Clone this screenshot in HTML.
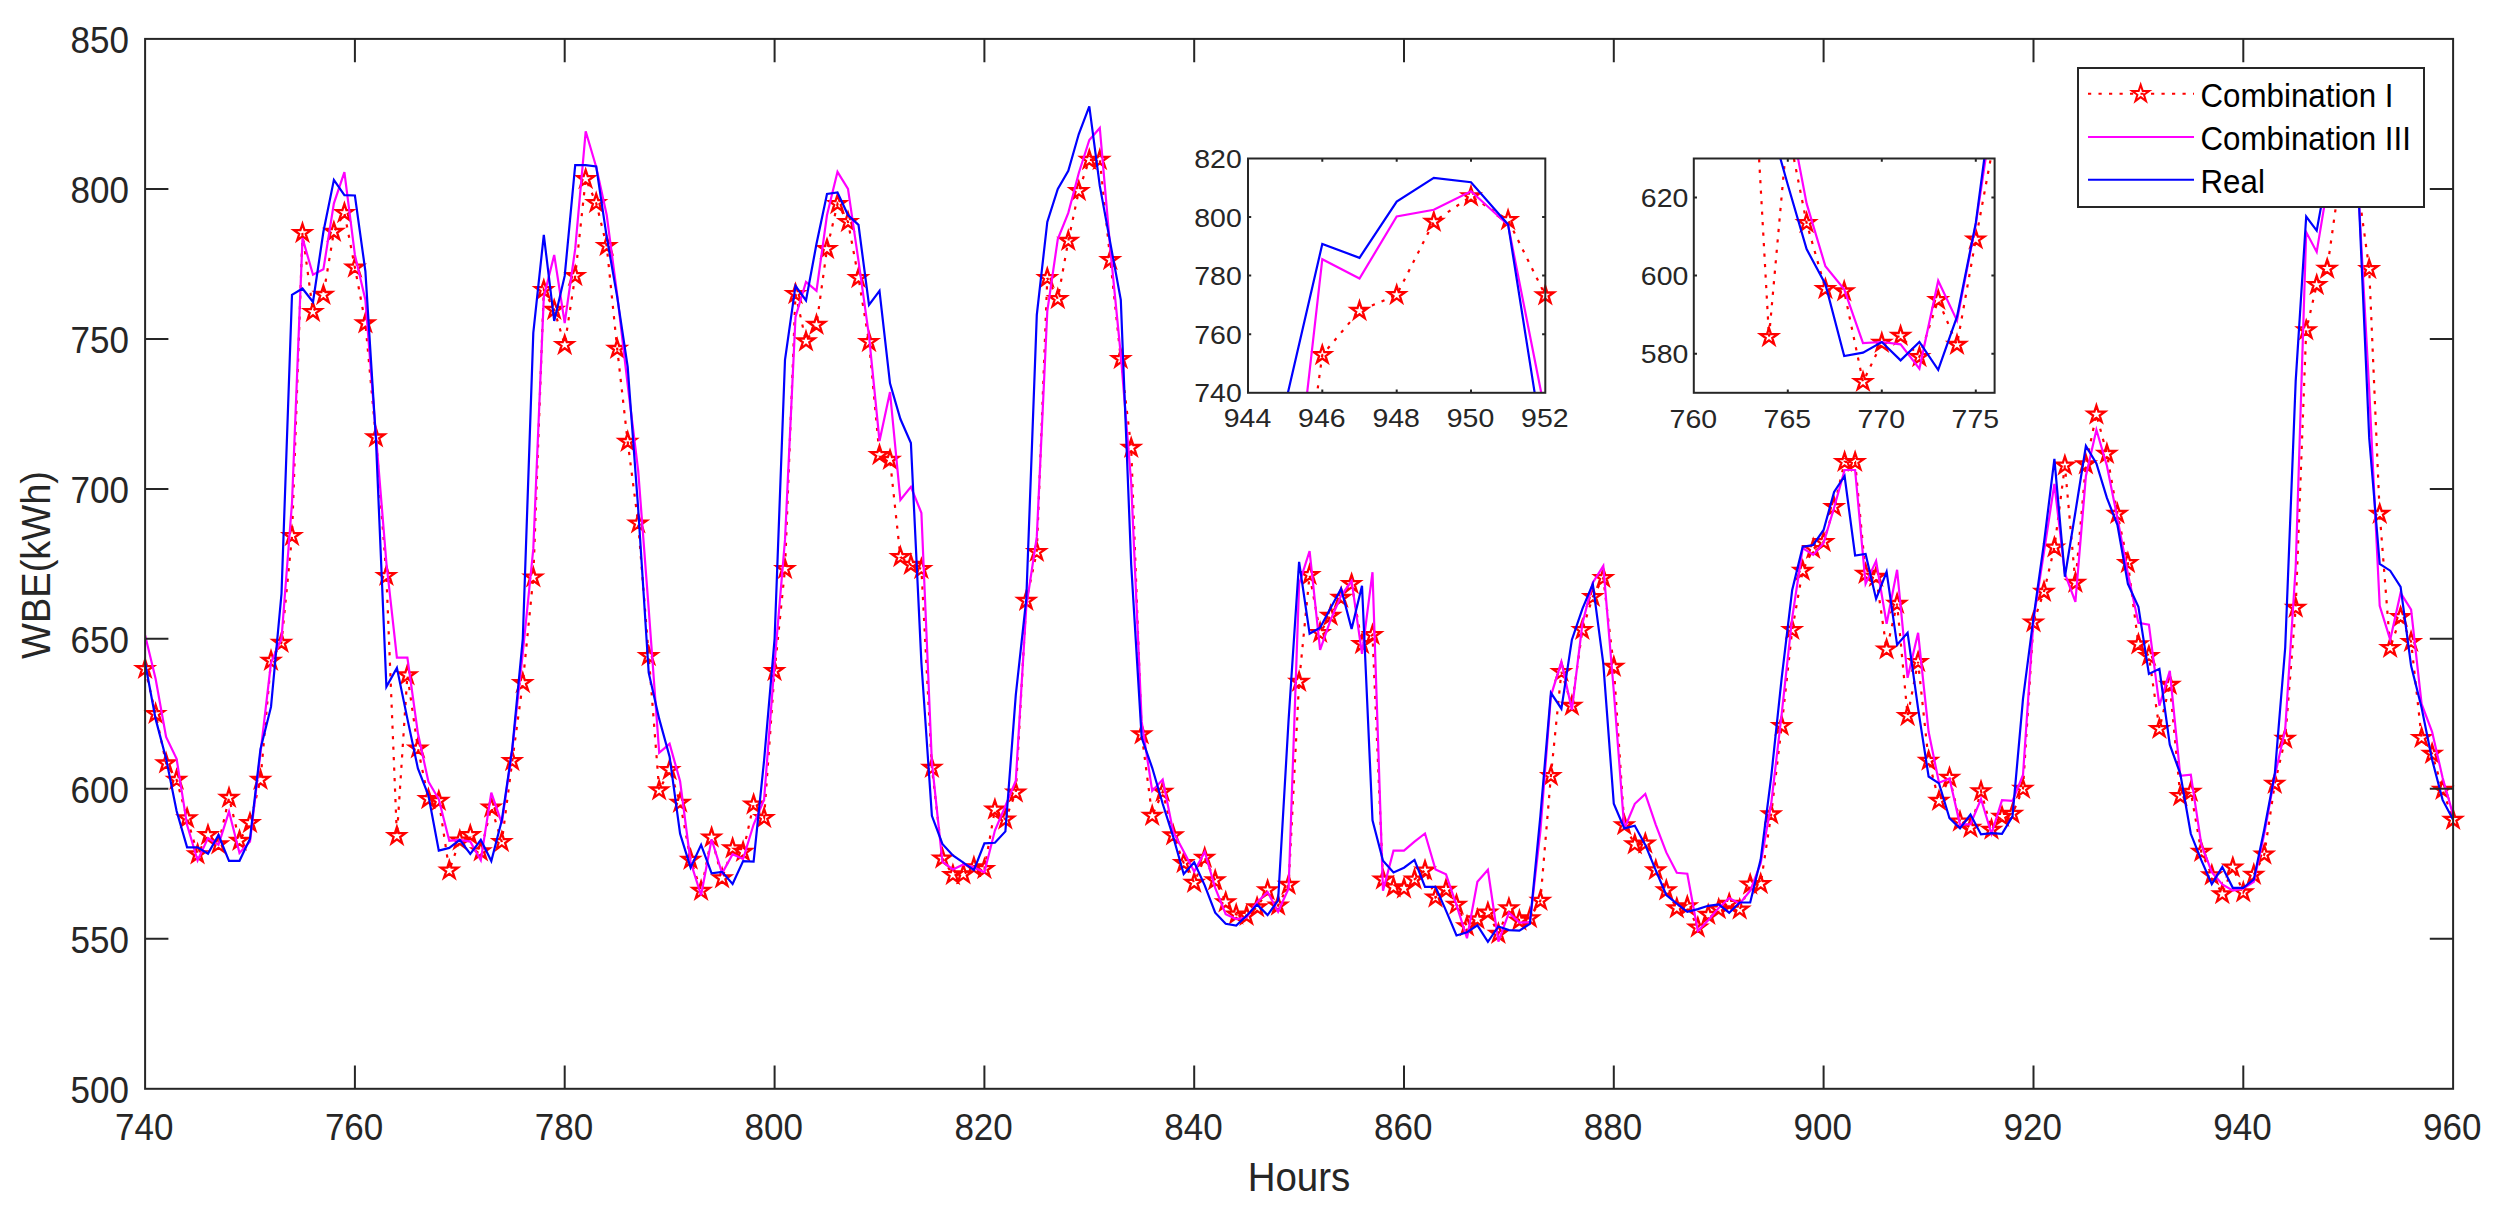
<!DOCTYPE html>
<html lang="en"><head><meta charset="utf-8"><title>WBE forecast comparison</title>
<style>html,body{margin:0;padding:0;background:#fff}body{width:2499px;height:1219px;overflow:hidden}svg text{font-family:"Liberation Sans", Arial, Helvetica, sans-serif}</style>
</head><body>
<svg width="2499" height="1219" viewBox="0 0 2499 1219" style="display:block;font-family:'Liberation Sans', Arial, Helvetica, sans-serif">
<rect x="0" y="0" width="2499" height="1219" fill="#fff"/>
<defs>
<clipPath id="cm"><rect x="145.1" y="38.9" width="2308.0" height="1049.9"/></clipPath>
<clipPath id="c1"><rect x="1248.0" y="158.5" width="297.3" height="234.3"/></clipPath>
<clipPath id="c2"><rect x="1693.8" y="158.5" width="300.8" height="234.3"/></clipPath>
</defs>
<g clip-path="url(#cm)" fill="none" stroke-width="2.2" stroke-linejoin="miter">
<polyline points="145.1,668.8 155.6,713.8 166.1,763.3 176.6,779.8 187.1,818.2 197.6,854.2 208.0,835.0 218.5,844.3 229.0,797.8 239.5,840.7 250.0,823.0 260.5,779.8 271.0,660.7 281.5,642.7 292.0,536.0 302.5,233.0 313.0,311.9 323.4,294.8 333.9,231.8 344.4,212.9 354.9,267.5 365.4,323.3 375.9,437.3 386.4,575.8 396.9,835.9 407.4,675.1 417.9,748.3 428.4,799.0 438.8,800.8 449.3,870.4 459.8,840.4 470.3,835.0 480.8,851.2 491.3,807.4 501.8,841.9 512.3,760.9 522.8,682.9 533.3,577.3 543.8,290.0 554.2,309.8 564.7,344.9 575.2,275.9 585.7,179.0 596.2,203.0 606.7,245.9 617.2,348.8 627.7,441.8 638.2,523.4 648.7,655.9 659.2,790.3 669.6,769.9 680.1,802.6 690.6,859.6 701.1,890.8 711.6,837.4 722.1,878.2 732.6,848.2 743.1,851.8 753.6,804.4 764.1,817.9 774.6,670.9 785.0,568.9 795.5,293.9 806.0,341.3 816.5,324.8 827.0,248.9 837.5,203.9 848.0,221.9 858.5,278.0 869.0,341.9 879.5,455.0 890.0,459.8 900.4,557.0 910.9,564.7 921.4,568.9 931.9,767.8 942.4,858.4 952.9,874.9 963.4,874.3 973.9,867.1 984.4,868.9 994.9,809.5 1005.4,819.4 1015.8,792.4 1026.3,600.7 1036.8,551.9 1047.3,278.0 1057.8,299.0 1068.3,240.8 1078.8,191.0 1089.3,159.8 1099.8,159.8 1110.3,260.0 1120.8,359.0 1131.2,447.8 1141.7,734.2 1152.2,815.8 1162.7,791.8 1173.2,835.3 1183.7,862.9 1194.2,882.7 1204.7,857.8 1215.2,880.3 1225.7,902.2 1236.2,914.5 1246.6,915.7 1257.1,907.3 1267.6,890.2 1278.1,905.5 1288.6,884.8 1299.1,681.7 1309.6,574.9 1320.1,632.8 1330.6,615.7 1341.1,597.7 1351.6,583.9 1362.0,643.9 1372.5,634.9 1383.0,879.4 1393.5,887.2 1404.0,888.4 1414.5,879.4 1425.0,870.4 1435.5,897.4 1446.0,889.6 1456.5,904.6 1467.0,926.2 1477.4,919.3 1487.9,912.4 1498.4,933.7 1508.9,908.2 1519.4,920.5 1529.9,918.1 1540.4,900.7 1550.9,775.9 1561.4,671.8 1571.9,705.7 1582.4,629.8 1592.8,596.8 1603.3,577.9 1613.8,666.7 1624.3,825.1 1634.8,844.3 1645.3,843.4 1655.8,870.1 1666.3,890.2 1676.8,908.2 1687.3,906.1 1697.8,927.4 1708.2,914.8 1718.7,909.1 1729.2,903.7 1739.7,909.4 1750.2,884.5 1760.7,883.9 1771.2,814.3 1781.7,725.8 1792.2,629.8 1802.7,570.7 1813.2,548.9 1823.6,542.0 1834.1,506.9 1844.6,461.9 1855.1,461.9 1865.6,573.7 1876.1,576.7 1886.6,649.3 1897.1,603.7 1907.6,715.9 1918.1,661.9 1928.6,760.6 1939.0,800.8 1949.5,777.7 1960.0,821.5 1970.5,827.8 1981.0,791.2 1991.5,829.6 2002.0,816.7 2012.5,813.7 2023.0,788.8 2033.5,622.3 2044.0,591.7 2054.4,547.4 2064.9,465.5 2075.4,582.7 2085.9,464.3 2096.4,414.5 2106.9,453.8 2117.4,513.8 2127.9,563.0 2138.4,644.2 2148.9,655.9 2159.4,728.8 2169.8,684.7 2180.3,796.0 2190.8,791.8 2201.3,851.8 2211.8,875.2 2222.3,894.1 2232.8,867.4 2243.3,892.3 2253.8,874.6 2264.3,854.5 2274.8,783.7 2285.2,738.7 2295.7,607.6 2306.2,330.2 2316.7,284.9 2327.2,268.7 2337.7,193.7 2348.2,167.6 2358.7,191.9 2369.2,269.0 2379.7,513.8 2390.2,647.8 2400.6,616.9 2411.1,641.8 2421.6,737.8 2432.1,753.7 2442.6,789.7 2453.1,819.7" stroke="#f00" stroke-dasharray="3.2 7.3"/>
</g>
<path d="M145.1 659.8 L147.1 666.1 L153.7 666.1 L148.4 669.9 L150.4 676.1 L145.1 672.3 L139.8 676.1 L141.8 669.9 L136.5 666.1 L143.1 666.1Z M155.6 704.8 L157.6 711.1 L164.2 711.1 L158.9 714.9 L160.9 721.1 L155.6 717.3 L150.3 721.1 L152.3 714.9 L147.0 711.1 L153.6 711.1Z M166.1 754.3 L168.1 760.5 L174.6 760.5 L169.4 764.4 L171.4 770.6 L166.1 766.8 L160.8 770.6 L162.8 764.4 L157.5 760.5 L164.1 760.5Z M176.6 770.8 L178.6 777.0 L185.1 777.0 L179.8 780.9 L181.9 787.1 L176.6 783.3 L171.3 787.1 L173.3 780.9 L168.0 777.0 L174.6 777.0Z M187.1 809.2 L189.1 815.4 L195.6 815.4 L190.3 819.3 L192.4 825.5 L187.1 821.7 L181.8 825.5 L183.8 819.3 L178.5 815.4 L185.0 815.4Z M197.6 845.2 L199.6 851.4 L206.1 851.4 L200.8 855.3 L202.8 861.5 L197.6 857.7 L192.3 861.5 L194.3 855.3 L189.0 851.4 L195.5 851.4Z M208.0 826.0 L210.1 832.2 L216.6 832.2 L211.3 836.1 L213.3 842.3 L208.0 838.5 L202.8 842.3 L204.8 836.1 L199.5 832.2 L206.0 832.2Z M218.5 835.3 L220.6 841.5 L227.1 841.5 L221.8 845.4 L223.8 851.6 L218.5 847.8 L213.2 851.6 L215.3 845.4 L210.0 841.5 L216.5 841.5Z M229.0 788.8 L231.0 795.0 L237.6 795.0 L232.3 798.9 L234.3 805.1 L229.0 801.3 L223.7 805.1 L225.8 798.9 L220.5 795.0 L227.0 795.0Z M239.5 831.7 L241.5 837.9 L248.1 837.9 L242.8 841.8 L244.8 848.0 L239.5 844.2 L234.2 848.0 L236.2 841.8 L231.0 837.9 L237.5 837.9Z M250.0 814.0 L252.0 820.2 L258.6 820.2 L253.3 824.1 L255.3 830.3 L250.0 826.5 L244.7 830.3 L246.7 824.1 L241.4 820.2 L248.0 820.2Z M260.5 770.8 L262.5 777.0 L269.1 777.0 L263.8 780.9 L265.8 787.1 L260.5 783.3 L255.2 787.1 L257.2 780.9 L251.9 777.0 L258.5 777.0Z M271.0 651.7 L273.0 658.0 L279.6 658.0 L274.3 661.8 L276.3 668.0 L271.0 664.2 L265.7 668.0 L267.7 661.8 L262.4 658.0 L269.0 658.0Z M281.5 633.7 L283.5 640.0 L290.0 640.0 L284.8 643.8 L286.8 650.0 L281.5 646.2 L276.2 650.0 L278.2 643.8 L272.9 640.0 L279.5 640.0Z M292.0 527.0 L294.0 533.2 L300.5 533.2 L295.2 537.0 L297.3 543.2 L292.0 539.4 L286.7 543.2 L288.7 537.0 L283.4 533.2 L290.0 533.2Z M302.5 224.0 L304.5 230.2 L311.0 230.2 L305.7 234.0 L307.8 240.3 L302.5 236.4 L297.2 240.3 L299.2 234.0 L293.9 230.2 L300.4 230.2Z M313.0 302.9 L315.0 309.1 L321.5 309.1 L316.2 312.9 L318.2 319.2 L313.0 315.3 L307.7 319.2 L309.7 312.9 L304.4 309.1 L310.9 309.1Z M323.4 285.8 L325.5 292.0 L332.0 292.0 L326.7 295.8 L328.7 302.1 L323.4 298.2 L318.2 302.1 L320.2 295.8 L314.9 292.0 L321.4 292.0Z M333.9 222.8 L336.0 229.0 L342.5 229.0 L337.2 232.8 L339.2 239.1 L333.9 235.2 L328.6 239.1 L330.7 232.8 L325.4 229.0 L331.9 229.0Z M344.4 203.9 L346.4 210.1 L353.0 210.1 L347.7 213.9 L349.7 220.2 L344.4 216.3 L339.1 220.2 L341.2 213.9 L335.9 210.1 L342.4 210.1Z M354.9 258.5 L356.9 264.7 L363.5 264.7 L358.2 268.5 L360.2 274.8 L354.9 270.9 L349.6 274.8 L351.6 268.5 L346.4 264.7 L352.9 264.7Z M365.4 314.3 L367.4 320.5 L374.0 320.5 L368.7 324.3 L370.7 330.6 L365.4 326.7 L360.1 330.6 L362.1 324.3 L356.8 320.5 L363.4 320.5Z M375.9 428.3 L377.9 434.5 L384.5 434.5 L379.2 438.3 L381.2 444.5 L375.9 440.7 L370.6 444.5 L372.6 438.3 L367.3 434.5 L373.9 434.5Z M386.4 566.8 L388.4 573.1 L395.0 573.1 L389.7 576.9 L391.7 583.1 L386.4 579.3 L381.1 583.1 L383.1 576.9 L377.8 573.1 L384.4 573.1Z M396.9 826.9 L398.9 833.1 L405.4 833.1 L400.2 837.0 L402.2 843.2 L396.9 839.4 L391.6 843.2 L393.6 837.0 L388.3 833.1 L394.9 833.1Z M407.4 666.1 L409.4 672.4 L415.9 672.4 L410.6 676.2 L412.7 682.4 L407.4 678.6 L402.1 682.4 L404.1 676.2 L398.8 672.4 L405.4 672.4Z M417.9 739.3 L419.9 745.6 L426.4 745.6 L421.1 749.4 L423.2 755.6 L417.9 751.8 L412.6 755.6 L414.6 749.4 L409.3 745.6 L415.8 745.6Z M428.4 790.0 L430.4 796.2 L436.9 796.2 L431.6 800.1 L433.6 806.3 L428.4 802.5 L423.1 806.3 L425.1 800.1 L419.8 796.2 L426.3 796.2Z M438.8 791.8 L440.9 798.0 L447.4 798.0 L442.1 801.9 L444.1 808.1 L438.8 804.3 L433.6 808.1 L435.6 801.9 L430.3 798.0 L436.8 798.0Z M449.3 861.4 L451.4 867.6 L457.9 867.6 L452.6 871.5 L454.6 877.7 L449.3 873.9 L444.0 877.7 L446.1 871.5 L440.8 867.6 L447.3 867.6Z M459.8 831.4 L461.8 837.6 L468.4 837.6 L463.1 841.5 L465.1 847.7 L459.8 843.9 L454.5 847.7 L456.6 841.5 L451.3 837.6 L457.8 837.6Z M470.3 826.0 L472.3 832.2 L478.9 832.2 L473.6 836.1 L475.6 842.3 L470.3 838.5 L465.0 842.3 L467.0 836.1 L461.8 832.2 L468.3 832.2Z M480.8 842.2 L482.8 848.4 L489.4 848.4 L484.1 852.3 L486.1 858.5 L480.8 854.7 L475.5 858.5 L477.5 852.3 L472.2 848.4 L478.8 848.4Z M491.3 798.4 L493.3 804.6 L499.9 804.6 L494.6 808.5 L496.6 814.7 L491.3 810.9 L486.0 814.7 L488.0 808.5 L482.7 804.6 L489.3 804.6Z M501.8 832.9 L503.8 839.1 L510.4 839.1 L505.1 843.0 L507.1 849.2 L501.8 845.4 L496.5 849.2 L498.5 843.0 L493.2 839.1 L499.8 839.1Z M512.3 751.9 L514.3 758.1 L520.8 758.2 L515.6 762.0 L517.6 768.2 L512.3 764.4 L507.0 768.2 L509.0 762.0 L503.7 758.2 L510.3 758.1Z M522.8 673.9 L524.8 680.2 L531.3 680.2 L526.0 684.0 L528.1 690.2 L522.8 686.4 L517.5 690.2 L519.5 684.0 L514.2 680.2 L520.8 680.2Z M533.3 568.3 L535.3 574.6 L541.8 574.6 L536.5 578.4 L538.6 584.6 L533.3 580.8 L528.0 584.6 L530.0 578.4 L524.7 574.6 L531.2 574.6Z M543.8 281.0 L545.8 287.2 L552.3 287.2 L547.0 291.0 L549.0 297.3 L543.8 293.4 L538.5 297.3 L540.5 291.0 L535.2 287.2 L541.7 287.2Z M554.2 300.8 L556.3 307.0 L562.8 307.0 L557.5 310.8 L559.5 317.1 L554.2 313.2 L549.0 317.1 L551.0 310.8 L545.7 307.0 L552.2 307.0Z M564.7 335.9 L566.8 342.1 L573.3 342.1 L568.0 345.9 L570.0 352.2 L564.7 348.3 L559.4 352.2 L561.5 345.9 L556.2 342.1 L562.7 342.1Z M575.2 266.9 L577.2 273.1 L583.8 273.1 L578.5 276.9 L580.5 283.2 L575.2 279.3 L569.9 283.2 L572.0 276.9 L566.7 273.1 L573.2 273.1Z M585.7 170.0 L587.7 176.2 L594.3 176.2 L589.0 180.0 L591.0 186.3 L585.7 182.4 L580.4 186.3 L582.4 180.0 L577.2 176.2 L583.7 176.2Z M596.2 194.0 L598.2 200.2 L604.8 200.2 L599.5 204.0 L601.5 210.3 L596.2 206.4 L590.9 210.3 L592.9 204.0 L587.6 200.2 L594.2 200.2Z M606.7 236.9 L608.7 243.1 L615.3 243.1 L610.0 246.9 L612.0 253.2 L606.7 249.3 L601.4 253.2 L603.4 246.9 L598.1 243.1 L604.7 243.1Z M617.2 339.8 L619.2 346.0 L625.8 346.0 L620.5 349.8 L622.5 356.1 L617.2 352.2 L611.9 356.1 L613.9 349.8 L608.6 346.0 L615.2 346.0Z M627.7 432.8 L629.7 439.0 L636.2 439.0 L631.0 442.8 L633.0 449.0 L627.7 445.2 L622.4 449.0 L624.4 442.8 L619.1 439.0 L625.7 439.0Z M638.2 514.4 L640.2 520.6 L646.7 520.6 L641.4 524.4 L643.5 530.6 L638.2 526.8 L632.9 530.6 L634.9 524.4 L629.6 520.6 L636.2 520.6Z M648.7 646.9 L650.7 653.2 L657.2 653.2 L651.9 657.0 L654.0 663.2 L648.7 659.4 L643.4 663.2 L645.4 657.0 L640.1 653.2 L646.6 653.2Z M659.2 781.3 L661.2 787.5 L667.7 787.5 L662.4 791.4 L664.4 797.6 L659.2 793.8 L653.9 797.6 L655.9 791.4 L650.6 787.5 L657.1 787.5Z M669.6 760.9 L671.7 767.1 L678.2 767.1 L672.9 771.0 L674.9 777.2 L669.6 773.4 L664.4 777.2 L666.4 771.0 L661.1 767.1 L667.6 767.1Z M680.1 793.6 L682.2 799.8 L688.7 799.8 L683.4 803.7 L685.4 809.9 L680.1 806.1 L674.8 809.9 L676.9 803.7 L671.6 799.8 L678.1 799.8Z M690.6 850.6 L692.6 856.8 L699.2 856.8 L693.9 860.7 L695.9 866.9 L690.6 863.1 L685.3 866.9 L687.4 860.7 L682.1 856.8 L688.6 856.8Z M701.1 881.8 L703.1 888.0 L709.7 888.0 L704.4 891.9 L706.4 898.1 L701.1 894.3 L695.8 898.1 L697.8 891.9 L692.6 888.0 L699.1 888.0Z M711.6 828.4 L713.6 834.6 L720.2 834.6 L714.9 838.5 L716.9 844.7 L711.6 840.9 L706.3 844.7 L708.3 838.5 L703.0 834.6 L709.6 834.6Z M722.1 869.2 L724.1 875.4 L730.7 875.4 L725.4 879.3 L727.4 885.5 L722.1 881.7 L716.8 885.5 L718.8 879.3 L713.5 875.4 L720.1 875.4Z M732.6 839.2 L734.6 845.4 L741.2 845.4 L735.9 849.3 L737.9 855.5 L732.6 851.7 L727.3 855.5 L729.3 849.3 L724.0 845.4 L730.6 845.4Z M743.1 842.8 L745.1 849.0 L751.6 849.0 L746.4 852.9 L748.4 859.1 L743.1 855.3 L737.8 859.1 L739.8 852.9 L734.5 849.0 L741.1 849.0Z M753.6 795.4 L755.6 801.6 L762.1 801.6 L756.8 805.5 L758.9 811.7 L753.6 807.9 L748.3 811.7 L750.3 805.5 L745.0 801.6 L751.6 801.6Z M764.1 808.9 L766.1 815.1 L772.6 815.1 L767.3 819.0 L769.4 825.2 L764.1 821.4 L758.8 825.2 L760.8 819.0 L755.5 815.1 L762.0 815.1Z M774.6 661.9 L776.6 668.2 L783.1 668.2 L777.8 672.0 L779.8 678.2 L774.6 674.4 L769.3 678.2 L771.3 672.0 L766.0 668.2 L772.5 668.2Z M785.0 559.9 L787.1 566.2 L793.6 566.2 L788.3 570.0 L790.3 576.2 L785.0 572.4 L779.8 576.2 L781.8 570.0 L776.5 566.2 L783.0 566.2Z M795.5 284.9 L797.6 291.1 L804.1 291.1 L798.8 294.9 L800.8 301.2 L795.5 297.3 L790.2 301.2 L792.3 294.9 L787.0 291.1 L793.5 291.1Z M806.0 332.3 L808.0 338.5 L814.6 338.5 L809.3 342.3 L811.3 348.6 L806.0 344.7 L800.7 348.6 L802.8 342.3 L797.5 338.5 L804.0 338.5Z M816.5 315.8 L818.5 322.0 L825.1 322.0 L819.8 325.8 L821.8 332.1 L816.5 328.2 L811.2 332.1 L813.2 325.8 L808.0 322.0 L814.5 322.0Z M827.0 239.9 L829.0 246.1 L835.6 246.1 L830.3 249.9 L832.3 256.2 L827.0 252.3 L821.7 256.2 L823.7 249.9 L818.4 246.1 L825.0 246.1Z M837.5 194.9 L839.5 201.1 L846.1 201.1 L840.8 204.9 L842.8 211.2 L837.5 207.3 L832.2 211.2 L834.2 204.9 L828.9 201.1 L835.5 201.1Z M848.0 212.9 L850.0 219.1 L856.6 219.1 L851.3 222.9 L853.3 229.2 L848.0 225.3 L842.7 229.2 L844.7 222.9 L839.4 219.1 L846.0 219.1Z M858.5 269.0 L860.5 275.2 L867.0 275.2 L861.8 279.0 L863.8 285.3 L858.5 281.4 L853.2 285.3 L855.2 279.0 L849.9 275.2 L856.5 275.2Z M869.0 332.9 L871.0 339.1 L877.5 339.1 L872.2 342.9 L874.3 349.2 L869.0 345.3 L863.7 349.2 L865.7 342.9 L860.4 339.1 L867.0 339.1Z M879.5 446.0 L881.5 452.2 L888.0 452.2 L882.7 456.0 L884.8 462.2 L879.5 458.4 L874.2 462.2 L876.2 456.0 L870.9 452.2 L877.4 452.2Z M890.0 450.8 L892.0 457.0 L898.5 457.0 L893.2 460.8 L895.2 467.0 L890.0 463.2 L884.7 467.0 L886.7 460.8 L881.4 457.0 L887.9 457.0Z M900.4 548.0 L902.5 554.2 L909.0 554.2 L903.7 558.0 L905.7 564.2 L900.4 560.4 L895.2 564.2 L897.2 558.0 L891.9 554.2 L898.4 554.2Z M910.9 555.7 L913.0 562.0 L919.5 562.0 L914.2 565.8 L916.2 572.0 L910.9 568.2 L905.6 572.0 L907.7 565.8 L902.4 562.0 L908.9 562.0Z M921.4 559.9 L923.4 566.2 L930.0 566.2 L924.7 570.0 L926.7 576.2 L921.4 572.4 L916.1 576.2 L918.2 570.0 L912.9 566.2 L919.4 566.2Z M931.9 758.8 L933.9 765.0 L940.5 765.0 L935.2 768.9 L937.2 775.1 L931.9 771.3 L926.6 775.1 L928.6 768.9 L923.4 765.0 L929.9 765.0Z M942.4 849.4 L944.4 855.6 L951.0 855.6 L945.7 859.5 L947.7 865.7 L942.4 861.9 L937.1 865.7 L939.1 859.5 L933.8 855.6 L940.4 855.6Z M952.9 865.9 L954.9 872.1 L961.5 872.1 L956.2 876.0 L958.2 882.2 L952.9 878.4 L947.6 882.2 L949.6 876.0 L944.3 872.1 L950.9 872.1Z M963.4 865.3 L965.4 871.5 L972.0 871.5 L966.7 875.4 L968.7 881.6 L963.4 877.8 L958.1 881.6 L960.1 875.4 L954.8 871.5 L961.4 871.5Z M973.9 858.1 L975.9 864.3 L982.4 864.3 L977.2 868.2 L979.2 874.4 L973.9 870.6 L968.6 874.4 L970.6 868.2 L965.3 864.3 L971.9 864.3Z M984.4 859.9 L986.4 866.1 L992.9 866.1 L987.6 870.0 L989.7 876.2 L984.4 872.4 L979.1 876.2 L981.1 870.0 L975.8 866.1 L982.4 866.1Z M994.9 800.5 L996.9 806.7 L1003.4 806.7 L998.1 810.6 L1000.2 816.8 L994.9 813.0 L989.6 816.8 L991.6 810.6 L986.3 806.7 L992.8 806.7Z M1005.4 810.4 L1007.4 816.6 L1013.9 816.6 L1008.6 820.5 L1010.6 826.7 L1005.4 822.9 L1000.1 826.7 L1002.1 820.5 L996.8 816.6 L1003.3 816.6Z M1015.8 783.4 L1017.9 789.6 L1024.4 789.6 L1019.1 793.5 L1021.1 799.7 L1015.8 795.9 L1010.6 799.7 L1012.6 793.5 L1007.3 789.6 L1013.8 789.6Z M1026.3 591.7 L1028.4 598.0 L1034.9 598.0 L1029.6 601.8 L1031.6 608.0 L1026.3 604.2 L1021.0 608.0 L1023.1 601.8 L1017.8 598.0 L1024.3 598.0Z M1036.8 542.9 L1038.8 549.1 L1045.4 549.1 L1040.1 552.9 L1042.1 559.1 L1036.8 555.3 L1031.5 559.1 L1033.6 552.9 L1028.3 549.1 L1034.8 549.1Z M1047.3 269.0 L1049.3 275.2 L1055.9 275.2 L1050.6 279.0 L1052.6 285.3 L1047.3 281.4 L1042.0 285.3 L1044.0 279.0 L1038.8 275.2 L1045.3 275.2Z M1057.8 290.0 L1059.8 296.2 L1066.4 296.2 L1061.1 300.0 L1063.1 306.3 L1057.8 302.4 L1052.5 306.3 L1054.5 300.0 L1049.2 296.2 L1055.8 296.2Z M1068.3 231.8 L1070.3 238.0 L1076.9 238.0 L1071.6 241.8 L1073.6 248.1 L1068.3 244.2 L1063.0 248.1 L1065.0 241.8 L1059.7 238.0 L1066.3 238.0Z M1078.8 182.0 L1080.8 188.2 L1087.4 188.2 L1082.1 192.0 L1084.1 198.3 L1078.8 194.4 L1073.5 198.3 L1075.5 192.0 L1070.2 188.2 L1076.8 188.2Z M1089.3 150.8 L1091.3 157.0 L1097.8 157.0 L1092.6 160.9 L1094.6 167.1 L1089.3 163.2 L1084.0 167.1 L1086.0 160.9 L1080.7 157.0 L1087.3 157.0Z M1099.8 150.8 L1101.8 157.0 L1108.3 157.0 L1103.0 160.9 L1105.1 167.1 L1099.8 163.2 L1094.5 167.1 L1096.5 160.9 L1091.2 157.0 L1097.8 157.0Z M1110.3 251.0 L1112.3 257.2 L1118.8 257.2 L1113.5 261.0 L1115.6 267.3 L1110.3 263.4 L1105.0 267.3 L1107.0 261.0 L1101.7 257.2 L1108.2 257.2Z M1120.8 350.0 L1122.8 356.2 L1129.3 356.2 L1124.0 360.0 L1126.0 366.3 L1120.8 362.4 L1115.5 366.3 L1117.5 360.0 L1112.2 356.2 L1118.7 356.2Z M1131.2 438.8 L1133.3 445.0 L1139.8 445.0 L1134.5 448.8 L1136.5 455.0 L1131.2 451.2 L1126.0 455.0 L1128.0 448.8 L1122.7 445.0 L1129.2 445.0Z M1141.7 725.2 L1143.8 731.5 L1150.3 731.5 L1145.0 735.3 L1147.0 741.5 L1141.7 737.7 L1136.4 741.5 L1138.5 735.3 L1133.2 731.5 L1139.7 731.5Z M1152.2 806.8 L1154.2 813.0 L1160.8 813.0 L1155.5 816.9 L1157.5 823.1 L1152.2 819.3 L1146.9 823.1 L1149.0 816.9 L1143.7 813.0 L1150.2 813.0Z M1162.7 782.8 L1164.7 789.0 L1171.3 789.0 L1166.0 792.9 L1168.0 799.1 L1162.7 795.3 L1157.4 799.1 L1159.4 792.9 L1154.2 789.0 L1160.7 789.0Z M1173.2 826.3 L1175.2 832.5 L1181.8 832.5 L1176.5 836.4 L1178.5 842.6 L1173.2 838.8 L1167.9 842.6 L1169.9 836.4 L1164.6 832.5 L1171.2 832.5Z M1183.7 853.9 L1185.7 860.1 L1192.3 860.1 L1187.0 864.0 L1189.0 870.2 L1183.7 866.4 L1178.4 870.2 L1180.4 864.0 L1175.1 860.1 L1181.7 860.1Z M1194.2 873.7 L1196.2 879.9 L1202.8 879.9 L1197.5 883.8 L1199.5 890.0 L1194.2 886.2 L1188.9 890.0 L1190.9 883.8 L1185.6 879.9 L1192.2 879.9Z M1204.7 848.8 L1206.7 855.0 L1213.2 855.0 L1208.0 858.9 L1210.0 865.1 L1204.7 861.3 L1199.4 865.1 L1201.4 858.9 L1196.1 855.0 L1202.7 855.0Z M1215.2 871.3 L1217.2 877.5 L1223.7 877.5 L1218.4 881.4 L1220.5 887.6 L1215.2 883.8 L1209.9 887.6 L1211.9 881.4 L1206.6 877.5 L1213.2 877.5Z M1225.7 893.2 L1227.7 899.4 L1234.2 899.4 L1228.9 903.3 L1231.0 909.5 L1225.7 905.7 L1220.4 909.5 L1222.4 903.3 L1217.1 899.4 L1223.6 899.4Z M1236.2 905.5 L1238.2 911.7 L1244.7 911.7 L1239.4 915.6 L1241.4 921.8 L1236.2 918.0 L1230.9 921.8 L1232.9 915.6 L1227.6 911.7 L1234.1 911.7Z M1246.6 906.7 L1248.7 912.9 L1255.2 912.9 L1249.9 916.8 L1251.9 923.0 L1246.6 919.2 L1241.4 923.0 L1243.4 916.8 L1238.1 912.9 L1244.6 912.9Z M1257.1 898.3 L1259.2 904.5 L1265.7 904.5 L1260.4 908.4 L1262.4 914.6 L1257.1 910.8 L1251.8 914.6 L1253.9 908.4 L1248.6 904.5 L1255.1 904.5Z M1267.6 881.2 L1269.6 887.4 L1276.2 887.4 L1270.9 891.3 L1272.9 897.5 L1267.6 893.7 L1262.3 897.5 L1264.4 891.3 L1259.1 887.4 L1265.6 887.4Z M1278.1 896.5 L1280.1 902.7 L1286.7 902.7 L1281.4 906.6 L1283.4 912.8 L1278.1 909.0 L1272.8 912.8 L1274.8 906.6 L1269.6 902.7 L1276.1 902.7Z M1288.6 875.8 L1290.6 882.0 L1297.2 882.0 L1291.9 885.9 L1293.9 892.1 L1288.6 888.3 L1283.3 892.1 L1285.3 885.9 L1280.0 882.0 L1286.6 882.0Z M1299.1 672.7 L1301.1 679.0 L1307.7 679.0 L1302.4 682.8 L1304.4 689.0 L1299.1 685.2 L1293.8 689.0 L1295.8 682.8 L1290.5 679.0 L1297.1 679.0Z M1309.6 565.9 L1311.6 572.2 L1318.2 572.2 L1312.9 576.0 L1314.9 582.2 L1309.6 578.4 L1304.3 582.2 L1306.3 576.0 L1301.0 572.2 L1307.6 572.2Z M1320.1 623.8 L1322.1 630.1 L1328.6 630.1 L1323.4 633.9 L1325.4 640.1 L1320.1 636.3 L1314.8 640.1 L1316.8 633.9 L1311.5 630.1 L1318.1 630.1Z M1330.6 606.7 L1332.6 613.0 L1339.1 613.0 L1333.8 616.8 L1335.9 623.0 L1330.6 619.2 L1325.3 623.0 L1327.3 616.8 L1322.0 613.0 L1328.6 613.0Z M1341.1 588.7 L1343.1 595.0 L1349.6 595.0 L1344.3 598.8 L1346.4 605.0 L1341.1 601.2 L1335.8 605.0 L1337.8 598.8 L1332.5 595.0 L1339.0 595.0Z M1351.6 574.9 L1353.6 581.2 L1360.1 581.2 L1354.8 585.0 L1356.8 591.2 L1351.6 587.4 L1346.3 591.2 L1348.3 585.0 L1343.0 581.2 L1349.5 581.2Z M1362.0 634.9 L1364.1 641.2 L1370.6 641.2 L1365.3 645.0 L1367.3 651.2 L1362.0 647.4 L1356.8 651.2 L1358.8 645.0 L1353.5 641.2 L1360.0 641.2Z M1372.5 625.9 L1374.6 632.2 L1381.1 632.2 L1375.8 636.0 L1377.8 642.2 L1372.5 638.4 L1367.2 642.2 L1369.3 636.0 L1364.0 632.2 L1370.5 632.2Z M1383.0 870.4 L1385.0 876.6 L1391.6 876.6 L1386.3 880.5 L1388.3 886.7 L1383.0 882.9 L1377.7 886.7 L1379.8 880.5 L1374.5 876.6 L1381.0 876.6Z M1393.5 878.2 L1395.5 884.4 L1402.1 884.4 L1396.8 888.3 L1398.8 894.5 L1393.5 890.7 L1388.2 894.5 L1390.2 888.3 L1385.0 884.4 L1391.5 884.4Z M1404.0 879.4 L1406.0 885.6 L1412.6 885.6 L1407.3 889.5 L1409.3 895.7 L1404.0 891.9 L1398.7 895.7 L1400.7 889.5 L1395.4 885.6 L1402.0 885.6Z M1414.5 870.4 L1416.5 876.6 L1423.1 876.6 L1417.8 880.5 L1419.8 886.7 L1414.5 882.9 L1409.2 886.7 L1411.2 880.5 L1405.9 876.6 L1412.5 876.6Z M1425.0 861.4 L1427.0 867.6 L1433.6 867.6 L1428.3 871.5 L1430.3 877.7 L1425.0 873.9 L1419.7 877.7 L1421.7 871.5 L1416.4 867.6 L1423.0 867.6Z M1435.5 888.4 L1437.5 894.6 L1444.0 894.6 L1438.8 898.5 L1440.8 904.7 L1435.5 900.9 L1430.2 904.7 L1432.2 898.5 L1426.9 894.6 L1433.5 894.6Z M1446.0 880.6 L1448.0 886.8 L1454.5 886.8 L1449.2 890.7 L1451.3 896.9 L1446.0 893.1 L1440.7 896.9 L1442.7 890.7 L1437.4 886.8 L1444.0 886.8Z M1456.5 895.6 L1458.5 901.8 L1465.0 901.8 L1459.7 905.7 L1461.8 911.9 L1456.5 908.1 L1451.2 911.9 L1453.2 905.7 L1447.9 901.8 L1454.4 901.8Z M1467.0 917.2 L1469.0 923.4 L1475.5 923.4 L1470.2 927.3 L1472.2 933.5 L1467.0 929.7 L1461.7 933.5 L1463.7 927.3 L1458.4 923.4 L1464.9 923.4Z M1477.4 910.3 L1479.5 916.5 L1486.0 916.5 L1480.7 920.4 L1482.7 926.6 L1477.4 922.8 L1472.2 926.6 L1474.2 920.4 L1468.9 916.5 L1475.4 916.5Z M1487.9 903.4 L1490.0 909.6 L1496.5 909.6 L1491.2 913.5 L1493.2 919.7 L1487.9 915.9 L1482.6 919.7 L1484.7 913.5 L1479.4 909.6 L1485.9 909.6Z M1498.4 924.7 L1500.4 930.9 L1507.0 930.9 L1501.7 934.8 L1503.7 941.0 L1498.4 937.2 L1493.1 941.0 L1495.2 934.8 L1489.9 930.9 L1496.4 930.9Z M1508.9 899.2 L1510.9 905.4 L1517.5 905.4 L1512.2 909.3 L1514.2 915.5 L1508.9 911.7 L1503.6 915.5 L1505.6 909.3 L1500.4 905.4 L1506.9 905.4Z M1519.4 911.5 L1521.4 917.7 L1528.0 917.7 L1522.7 921.6 L1524.7 927.8 L1519.4 924.0 L1514.1 927.8 L1516.1 921.6 L1510.8 917.7 L1517.4 917.7Z M1529.9 909.1 L1531.9 915.3 L1538.5 915.3 L1533.2 919.2 L1535.2 925.4 L1529.9 921.6 L1524.6 925.4 L1526.6 919.2 L1521.3 915.3 L1527.9 915.3Z M1540.4 891.7 L1542.4 897.9 L1549.0 897.9 L1543.7 901.8 L1545.7 908.0 L1540.4 904.2 L1535.1 908.0 L1537.1 901.8 L1531.8 897.9 L1538.4 897.9Z M1550.9 766.9 L1552.9 773.1 L1559.4 773.1 L1554.2 777.0 L1556.2 783.2 L1550.9 779.4 L1545.6 783.2 L1547.6 777.0 L1542.3 773.1 L1548.9 773.1Z M1561.4 662.8 L1563.4 669.1 L1569.9 669.1 L1564.6 672.9 L1566.7 679.1 L1561.4 675.3 L1556.1 679.1 L1558.1 672.9 L1552.8 669.1 L1559.4 669.1Z M1571.9 696.7 L1573.9 703.0 L1580.4 703.0 L1575.1 706.8 L1577.2 713.0 L1571.9 709.2 L1566.6 713.0 L1568.6 706.8 L1563.3 703.0 L1569.8 703.0Z M1582.4 620.8 L1584.4 627.1 L1590.9 627.1 L1585.6 630.9 L1587.6 637.1 L1582.4 633.3 L1577.1 637.1 L1579.1 630.9 L1573.8 627.1 L1580.3 627.1Z M1592.8 587.8 L1594.9 594.1 L1601.4 594.1 L1596.1 597.9 L1598.1 604.1 L1592.8 600.3 L1587.6 604.1 L1589.6 597.9 L1584.3 594.1 L1590.8 594.1Z M1603.3 568.9 L1605.4 575.2 L1611.9 575.2 L1606.6 579.0 L1608.6 585.2 L1603.3 581.4 L1598.0 585.2 L1600.1 579.0 L1594.8 575.2 L1601.3 575.2Z M1613.8 657.7 L1615.8 664.0 L1622.4 664.0 L1617.1 667.8 L1619.1 674.0 L1613.8 670.2 L1608.5 674.0 L1610.6 667.8 L1605.3 664.0 L1611.8 664.0Z M1624.3 816.1 L1626.3 822.3 L1632.9 822.3 L1627.6 826.2 L1629.6 832.4 L1624.3 828.6 L1619.0 832.4 L1621.0 826.2 L1615.8 822.3 L1622.3 822.3Z M1634.8 835.3 L1636.8 841.5 L1643.4 841.5 L1638.1 845.4 L1640.1 851.6 L1634.8 847.8 L1629.5 851.6 L1631.5 845.4 L1626.2 841.5 L1632.8 841.5Z M1645.3 834.4 L1647.3 840.6 L1653.9 840.6 L1648.6 844.5 L1650.6 850.7 L1645.3 846.9 L1640.0 850.7 L1642.0 844.5 L1636.7 840.6 L1643.3 840.6Z M1655.8 861.1 L1657.8 867.3 L1664.4 867.3 L1659.1 871.2 L1661.1 877.4 L1655.8 873.6 L1650.5 877.4 L1652.5 871.2 L1647.2 867.3 L1653.8 867.3Z M1666.3 881.2 L1668.3 887.4 L1674.8 887.4 L1669.6 891.3 L1671.6 897.5 L1666.3 893.7 L1661.0 897.5 L1663.0 891.3 L1657.7 887.4 L1664.3 887.4Z M1676.8 899.2 L1678.8 905.4 L1685.3 905.4 L1680.0 909.3 L1682.1 915.5 L1676.8 911.7 L1671.5 915.5 L1673.5 909.3 L1668.2 905.4 L1674.8 905.4Z M1687.3 897.1 L1689.3 903.3 L1695.8 903.3 L1690.5 907.2 L1692.6 913.4 L1687.3 909.6 L1682.0 913.4 L1684.0 907.2 L1678.7 903.3 L1685.2 903.3Z M1697.8 918.4 L1699.8 924.6 L1706.3 924.6 L1701.0 928.5 L1703.0 934.7 L1697.8 930.9 L1692.5 934.7 L1694.5 928.5 L1689.2 924.6 L1695.7 924.6Z M1708.2 905.8 L1710.3 912.0 L1716.8 912.0 L1711.5 915.9 L1713.5 922.1 L1708.2 918.3 L1703.0 922.1 L1705.0 915.9 L1699.7 912.0 L1706.2 912.0Z M1718.7 900.1 L1720.8 906.3 L1727.3 906.3 L1722.0 910.2 L1724.0 916.4 L1718.7 912.6 L1713.4 916.4 L1715.5 910.2 L1710.2 906.3 L1716.7 906.3Z M1729.2 894.7 L1731.2 900.9 L1737.8 900.9 L1732.5 904.8 L1734.5 911.0 L1729.2 907.2 L1723.9 911.0 L1726.0 904.8 L1720.7 900.9 L1727.2 900.9Z M1739.7 900.4 L1741.7 906.6 L1748.3 906.6 L1743.0 910.5 L1745.0 916.7 L1739.7 912.9 L1734.4 916.7 L1736.4 910.5 L1731.2 906.6 L1737.7 906.6Z M1750.2 875.5 L1752.2 881.7 L1758.8 881.7 L1753.5 885.6 L1755.5 891.8 L1750.2 888.0 L1744.9 891.8 L1746.9 885.6 L1741.6 881.7 L1748.2 881.7Z M1760.7 874.9 L1762.7 881.1 L1769.3 881.1 L1764.0 885.0 L1766.0 891.2 L1760.7 887.4 L1755.4 891.2 L1757.4 885.0 L1752.1 881.1 L1758.7 881.1Z M1771.2 805.3 L1773.2 811.5 L1779.8 811.5 L1774.5 815.4 L1776.5 821.6 L1771.2 817.8 L1765.9 821.6 L1767.9 815.4 L1762.6 811.5 L1769.2 811.5Z M1781.7 716.8 L1783.7 723.1 L1790.2 723.1 L1785.0 726.9 L1787.0 733.1 L1781.7 729.3 L1776.4 733.1 L1778.4 726.9 L1773.1 723.1 L1779.7 723.1Z M1792.2 620.8 L1794.2 627.1 L1800.7 627.1 L1795.4 630.9 L1797.5 637.1 L1792.2 633.3 L1786.9 637.1 L1788.9 630.9 L1783.6 627.1 L1790.2 627.1Z M1802.7 561.7 L1804.7 568.0 L1811.2 568.0 L1805.9 571.8 L1808.0 578.0 L1802.7 574.2 L1797.4 578.0 L1799.4 571.8 L1794.1 568.0 L1800.6 568.0Z M1813.2 539.9 L1815.2 546.1 L1821.7 546.1 L1816.4 549.9 L1818.4 556.1 L1813.2 552.3 L1807.9 556.1 L1809.9 549.9 L1804.6 546.1 L1811.1 546.1Z M1823.6 533.0 L1825.7 539.2 L1832.2 539.2 L1826.9 543.0 L1828.9 549.2 L1823.6 545.4 L1818.4 549.2 L1820.4 543.0 L1815.1 539.2 L1821.6 539.2Z M1834.1 497.9 L1836.2 504.1 L1842.7 504.1 L1837.4 507.9 L1839.4 514.1 L1834.1 510.3 L1828.8 514.1 L1830.9 507.9 L1825.6 504.1 L1832.1 504.1Z M1844.6 452.9 L1846.6 459.1 L1853.2 459.1 L1847.9 462.9 L1849.9 469.1 L1844.6 465.3 L1839.3 469.1 L1841.4 462.9 L1836.1 459.1 L1842.6 459.1Z M1855.1 452.9 L1857.1 459.1 L1863.7 459.1 L1858.4 462.9 L1860.4 469.1 L1855.1 465.3 L1849.8 469.1 L1851.8 462.9 L1846.6 459.1 L1853.1 459.1Z M1865.6 564.7 L1867.6 571.0 L1874.2 571.0 L1868.9 574.8 L1870.9 581.0 L1865.6 577.2 L1860.3 581.0 L1862.3 574.8 L1857.0 571.0 L1863.6 571.0Z M1876.1 567.7 L1878.1 574.0 L1884.7 574.0 L1879.4 577.8 L1881.4 584.0 L1876.1 580.2 L1870.8 584.0 L1872.8 577.8 L1867.5 574.0 L1874.1 574.0Z M1886.6 640.3 L1888.6 646.6 L1895.2 646.6 L1889.9 650.4 L1891.9 656.6 L1886.6 652.8 L1881.3 656.6 L1883.3 650.4 L1878.0 646.6 L1884.6 646.6Z M1897.1 594.7 L1899.1 601.0 L1905.6 601.0 L1900.4 604.8 L1902.4 611.0 L1897.1 607.2 L1891.8 611.0 L1893.8 604.8 L1888.5 601.0 L1895.1 601.0Z M1907.6 706.9 L1909.6 713.2 L1916.1 713.2 L1910.8 717.0 L1912.9 723.2 L1907.6 719.4 L1902.3 723.2 L1904.3 717.0 L1899.0 713.2 L1905.6 713.2Z M1918.1 652.9 L1920.1 659.2 L1926.6 659.2 L1921.3 663.0 L1923.4 669.2 L1918.1 665.4 L1912.8 669.2 L1914.8 663.0 L1909.5 659.2 L1916.0 659.2Z M1928.6 751.6 L1930.6 757.8 L1937.1 757.9 L1931.8 761.7 L1933.8 767.9 L1928.6 764.1 L1923.3 767.9 L1925.3 761.7 L1920.0 757.9 L1926.5 757.8Z M1939.0 791.8 L1941.1 798.0 L1947.6 798.0 L1942.3 801.9 L1944.3 808.1 L1939.0 804.3 L1933.8 808.1 L1935.8 801.9 L1930.5 798.0 L1937.0 798.0Z M1949.5 768.7 L1951.6 774.9 L1958.1 774.9 L1952.8 778.8 L1954.8 785.0 L1949.5 781.2 L1944.2 785.0 L1946.3 778.8 L1941.0 774.9 L1947.5 774.9Z M1960.0 812.5 L1962.0 818.7 L1968.6 818.7 L1963.3 822.6 L1965.3 828.8 L1960.0 825.0 L1954.7 828.8 L1956.8 822.6 L1951.5 818.7 L1958.0 818.7Z M1970.5 818.8 L1972.5 825.0 L1979.1 825.0 L1973.8 828.9 L1975.8 835.1 L1970.5 831.3 L1965.2 835.1 L1967.2 828.9 L1962.0 825.0 L1968.5 825.0Z M1981.0 782.2 L1983.0 788.4 L1989.6 788.4 L1984.3 792.3 L1986.3 798.5 L1981.0 794.7 L1975.7 798.5 L1977.7 792.3 L1972.4 788.4 L1979.0 788.4Z M1991.5 820.6 L1993.5 826.8 L2000.1 826.8 L1994.8 830.7 L1996.8 836.9 L1991.5 833.1 L1986.2 836.9 L1988.2 830.7 L1982.9 826.8 L1989.5 826.8Z M2002.0 807.7 L2004.0 813.9 L2010.6 813.9 L2005.3 817.8 L2007.3 824.0 L2002.0 820.2 L1996.7 824.0 L1998.7 817.8 L1993.4 813.9 L2000.0 813.9Z M2012.5 804.7 L2014.5 810.9 L2021.0 810.9 L2015.8 814.8 L2017.8 821.0 L2012.5 817.2 L2007.2 821.0 L2009.2 814.8 L2003.9 810.9 L2010.5 810.9Z M2023.0 779.8 L2025.0 786.0 L2031.5 786.0 L2026.2 789.9 L2028.3 796.1 L2023.0 792.3 L2017.7 796.1 L2019.7 789.9 L2014.4 786.0 L2021.0 786.0Z M2033.5 613.3 L2035.5 619.6 L2042.0 619.6 L2036.7 623.4 L2038.8 629.6 L2033.5 625.8 L2028.2 629.6 L2030.2 623.4 L2024.9 619.6 L2031.4 619.6Z M2044.0 582.7 L2046.0 589.0 L2052.5 589.0 L2047.2 592.8 L2049.2 599.0 L2044.0 595.2 L2038.7 599.0 L2040.7 592.8 L2035.4 589.0 L2041.9 589.0Z M2054.4 538.4 L2056.5 544.6 L2063.0 544.6 L2057.7 548.4 L2059.7 554.6 L2054.4 550.8 L2049.2 554.6 L2051.2 548.4 L2045.9 544.6 L2052.4 544.6Z M2064.9 456.5 L2067.0 462.7 L2073.5 462.7 L2068.2 466.5 L2070.2 472.7 L2064.9 468.9 L2059.6 472.7 L2061.7 466.5 L2056.4 462.7 L2062.9 462.7Z M2075.4 573.7 L2077.4 580.0 L2084.0 580.0 L2078.7 583.8 L2080.7 590.0 L2075.4 586.2 L2070.1 590.0 L2072.2 583.8 L2066.9 580.0 L2073.4 580.0Z M2085.9 455.3 L2087.9 461.5 L2094.5 461.5 L2089.2 465.3 L2091.2 471.5 L2085.9 467.7 L2080.6 471.5 L2082.6 465.3 L2077.4 461.5 L2083.9 461.5Z M2096.4 405.5 L2098.4 411.7 L2105.0 411.7 L2099.7 415.5 L2101.7 421.7 L2096.4 417.9 L2091.1 421.7 L2093.1 415.5 L2087.8 411.7 L2094.4 411.7Z M2106.9 444.8 L2108.9 451.0 L2115.5 451.0 L2110.2 454.8 L2112.2 461.0 L2106.9 457.2 L2101.6 461.0 L2103.6 454.8 L2098.3 451.0 L2104.9 451.0Z M2117.4 504.8 L2119.4 511.0 L2126.0 511.0 L2120.7 514.8 L2122.7 521.0 L2117.4 517.2 L2112.1 521.0 L2114.1 514.8 L2108.8 511.0 L2115.4 511.0Z M2127.9 554.0 L2129.9 560.2 L2136.4 560.2 L2131.2 564.0 L2133.2 570.2 L2127.9 566.4 L2122.6 570.2 L2124.6 564.0 L2119.3 560.2 L2125.9 560.2Z M2138.4 635.2 L2140.4 641.5 L2146.9 641.5 L2141.6 645.3 L2143.7 651.5 L2138.4 647.7 L2133.1 651.5 L2135.1 645.3 L2129.8 641.5 L2136.4 641.5Z M2148.9 646.9 L2150.9 653.2 L2157.4 653.2 L2152.1 657.0 L2154.2 663.2 L2148.9 659.4 L2143.6 663.2 L2145.6 657.0 L2140.3 653.2 L2146.8 653.2Z M2159.4 719.8 L2161.4 726.1 L2167.9 726.1 L2162.6 729.9 L2164.6 736.1 L2159.4 732.3 L2154.1 736.1 L2156.1 729.9 L2150.8 726.1 L2157.3 726.1Z M2169.8 675.7 L2171.9 682.0 L2178.4 682.0 L2173.1 685.8 L2175.1 692.0 L2169.8 688.2 L2164.6 692.0 L2166.6 685.8 L2161.3 682.0 L2167.8 682.0Z M2180.3 787.0 L2182.4 793.2 L2188.9 793.2 L2183.6 797.1 L2185.6 803.3 L2180.3 799.5 L2175.0 803.3 L2177.1 797.1 L2171.8 793.2 L2178.3 793.2Z M2190.8 782.8 L2192.8 789.0 L2199.4 789.0 L2194.1 792.9 L2196.1 799.1 L2190.8 795.3 L2185.5 799.1 L2187.6 792.9 L2182.3 789.0 L2188.8 789.0Z M2201.3 842.8 L2203.3 849.0 L2209.9 849.0 L2204.6 852.9 L2206.6 859.1 L2201.3 855.3 L2196.0 859.1 L2198.0 852.9 L2192.8 849.0 L2199.3 849.0Z M2211.8 866.2 L2213.8 872.4 L2220.4 872.4 L2215.1 876.3 L2217.1 882.5 L2211.8 878.7 L2206.5 882.5 L2208.5 876.3 L2203.2 872.4 L2209.8 872.4Z M2222.3 885.1 L2224.3 891.3 L2230.9 891.3 L2225.6 895.2 L2227.6 901.4 L2222.3 897.6 L2217.0 901.4 L2219.0 895.2 L2213.7 891.3 L2220.3 891.3Z M2232.8 858.4 L2234.8 864.6 L2241.4 864.6 L2236.1 868.5 L2238.1 874.7 L2232.8 870.9 L2227.5 874.7 L2229.5 868.5 L2224.2 864.6 L2230.8 864.6Z M2243.3 883.3 L2245.3 889.5 L2251.8 889.5 L2246.6 893.4 L2248.6 899.6 L2243.3 895.8 L2238.0 899.6 L2240.0 893.4 L2234.7 889.5 L2241.3 889.5Z M2253.8 865.6 L2255.8 871.8 L2262.3 871.8 L2257.0 875.7 L2259.1 881.9 L2253.8 878.1 L2248.5 881.9 L2250.5 875.7 L2245.2 871.8 L2251.8 871.8Z M2264.3 845.5 L2266.3 851.7 L2272.8 851.7 L2267.5 855.6 L2269.6 861.8 L2264.3 858.0 L2259.0 861.8 L2261.0 855.6 L2255.7 851.7 L2262.2 851.7Z M2274.8 774.7 L2276.8 780.9 L2283.3 780.9 L2278.0 784.8 L2280.0 791.0 L2274.8 787.2 L2269.5 791.0 L2271.5 784.8 L2266.2 780.9 L2272.7 780.9Z M2285.2 729.7 L2287.3 736.0 L2293.8 736.0 L2288.5 739.8 L2290.5 746.0 L2285.2 742.2 L2280.0 746.0 L2282.0 739.8 L2276.7 736.0 L2283.2 736.0Z M2295.7 598.6 L2297.8 604.9 L2304.3 604.9 L2299.0 608.7 L2301.0 614.9 L2295.7 611.1 L2290.4 614.9 L2292.5 608.7 L2287.2 604.9 L2293.7 604.9Z M2306.2 321.2 L2308.2 327.4 L2314.8 327.4 L2309.5 331.2 L2311.5 337.5 L2306.2 333.6 L2300.9 337.5 L2303.0 331.2 L2297.7 327.4 L2304.2 327.4Z M2316.7 275.9 L2318.7 282.1 L2325.3 282.1 L2320.0 285.9 L2322.0 292.2 L2316.7 288.3 L2311.4 292.2 L2313.4 285.9 L2308.2 282.1 L2314.7 282.1Z M2327.2 259.7 L2329.2 265.9 L2335.8 265.9 L2330.5 269.7 L2332.5 276.0 L2327.2 272.1 L2321.9 276.0 L2323.9 269.7 L2318.6 265.9 L2325.2 265.9Z M2337.7 184.7 L2339.7 190.9 L2346.3 190.9 L2341.0 194.7 L2343.0 201.0 L2337.7 197.1 L2332.4 201.0 L2334.4 194.7 L2329.1 190.9 L2335.7 190.9Z M2348.2 158.6 L2350.2 164.8 L2356.8 164.8 L2351.5 168.7 L2353.5 174.9 L2348.2 171.0 L2342.9 174.9 L2344.9 168.7 L2339.6 164.8 L2346.2 164.8Z M2358.7 182.9 L2360.7 189.1 L2367.2 189.1 L2362.0 192.9 L2364.0 199.2 L2358.7 195.3 L2353.4 199.2 L2355.4 192.9 L2350.1 189.1 L2356.7 189.1Z M2369.2 260.0 L2371.2 266.2 L2377.7 266.2 L2372.4 270.0 L2374.5 276.3 L2369.2 272.4 L2363.9 276.3 L2365.9 270.0 L2360.6 266.2 L2367.2 266.2Z M2379.7 504.8 L2381.7 511.0 L2388.2 511.0 L2382.9 514.8 L2385.0 521.0 L2379.7 517.2 L2374.4 521.0 L2376.4 514.8 L2371.1 511.0 L2377.6 511.0Z M2390.2 638.8 L2392.2 645.1 L2398.7 645.1 L2393.4 648.9 L2395.4 655.1 L2390.2 651.3 L2384.9 655.1 L2386.9 648.9 L2381.6 645.1 L2388.1 645.1Z M2400.6 607.9 L2402.7 614.2 L2409.2 614.2 L2403.9 618.0 L2405.9 624.2 L2400.6 620.4 L2395.4 624.2 L2397.4 618.0 L2392.1 614.2 L2398.6 614.2Z M2411.1 632.8 L2413.2 639.1 L2419.7 639.1 L2414.4 642.9 L2416.4 649.1 L2411.1 645.3 L2405.8 649.1 L2407.9 642.9 L2402.6 639.1 L2409.1 639.1Z M2421.6 728.8 L2423.6 735.1 L2430.2 735.1 L2424.9 738.9 L2426.9 745.1 L2421.6 741.3 L2416.3 745.1 L2418.4 738.9 L2413.1 735.1 L2419.6 735.1Z M2432.1 744.7 L2434.1 751.0 L2440.7 751.0 L2435.4 754.8 L2437.4 761.0 L2432.1 757.2 L2426.8 761.0 L2428.8 754.8 L2423.6 751.0 L2430.1 751.0Z M2442.6 780.7 L2444.6 786.9 L2451.2 786.9 L2445.9 790.8 L2447.9 797.0 L2442.6 793.2 L2437.3 797.0 L2439.3 790.8 L2434.0 786.9 L2440.6 786.9Z M2453.1 810.7 L2455.1 816.9 L2461.7 816.9 L2456.4 820.8 L2458.4 827.0 L2453.1 823.2 L2447.8 827.0 L2449.8 820.8 L2444.5 816.9 L2451.1 816.9Z" fill="none" stroke="#f00" stroke-width="2.3" stroke-linejoin="miter"/>
<g clip-path="url(#cm)" fill="none" stroke-width="2.2" stroke-linejoin="miter">
<polyline points="145.1,635.2 155.6,678.7 166.1,736.9 176.6,758.8 187.1,825.1 197.6,860.5 208.0,838.0 218.5,844.9 229.0,811.6 239.5,853.0 250.0,841.6 260.5,752.8 271.0,662.8 281.5,638.8 292.0,503.0 302.5,238.1 313.0,274.7 323.4,269.3 333.9,203.3 344.4,172.1 354.9,254.9 365.4,299.9 375.9,434.9 386.4,563.0 396.9,657.7 407.4,657.7 417.9,733.3 428.4,781.6 438.8,799.3 449.3,840.7 459.8,839.8 470.3,841.6 480.8,860.2 491.3,792.7 501.8,823.3 512.3,749.2 522.8,652.9 533.3,548.9 543.8,296.9 554.2,254.9 564.7,323.0 575.2,248.9 585.7,131.3 596.2,167.0 606.7,215.0 617.2,294.8 627.7,384.8 638.2,470.9 648.7,608.8 659.2,752.8 669.6,743.8 680.1,781.3 690.6,862.0 701.1,895.3 711.6,839.2 722.1,873.4 732.6,854.2 743.1,859.0 753.6,824.5 764.1,799.6 774.6,662.8 785.0,539.9 795.5,317.0 806.0,281.9 816.5,290.9 827.0,215.0 837.5,171.8 848.0,188.9 858.5,260.9 869.0,335.9 879.5,440.9 890.0,392.0 900.4,500.0 910.9,486.8 921.4,512.9 931.9,762.7 942.4,861.7 952.9,869.5 963.4,864.4 973.9,867.4 984.4,872.2 994.9,830.5 1005.4,805.9 1015.8,780.7 1026.3,606.7 1036.8,536.9 1047.3,311.0 1057.8,239.0 1068.3,212.9 1078.8,173.0 1089.3,140.0 1099.8,128.0 1110.3,248.9 1120.8,354.8 1131.2,482.9 1141.7,721.9 1152.2,790.9 1162.7,779.5 1173.2,831.7 1183.7,851.5 1194.2,871.6 1204.7,851.8 1215.2,887.8 1225.7,914.2 1236.2,919.0 1246.6,917.5 1257.1,902.2 1267.6,892.0 1278.1,911.8 1288.6,888.4 1299.1,583.9 1309.6,551.0 1320.1,649.9 1330.6,619.9 1341.1,595.9 1351.6,580.9 1362.0,653.8 1372.5,572.2 1383.0,890.8 1393.5,850.6 1404.0,850.6 1414.5,841.6 1425.0,833.5 1435.5,869.5 1446.0,874.3 1456.5,905.2 1467.0,938.2 1477.4,881.8 1487.9,869.8 1498.4,941.5 1508.9,912.7 1519.4,922.6 1529.9,922.3 1540.4,830.8 1550.9,695.8 1561.4,661.9 1571.9,709.9 1582.4,623.8 1592.8,582.7 1603.3,565.9 1613.8,691.3 1624.3,828.7 1634.8,803.8 1645.3,793.9 1655.8,824.8 1666.3,852.4 1676.8,872.8 1687.3,873.7 1697.8,931.0 1708.2,920.2 1718.7,907.9 1729.2,898.0 1739.7,903.7 1750.2,890.8 1760.7,863.2 1771.2,803.8 1781.7,713.8 1792.2,617.8 1802.7,548.0 1813.2,554.9 1823.6,542.9 1834.1,507.8 1844.6,470.0 1855.1,470.0 1865.6,583.9 1876.1,560.9 1886.6,623.8 1897.1,569.8 1907.6,677.8 1918.1,632.8 1928.6,731.8 1939.0,782.8 1949.5,778.6 1960.0,824.8 1970.5,824.2 1981.0,799.0 1991.5,833.8 2002.0,800.2 2012.5,800.8 2023.0,775.0 2033.5,619.9 2044.0,551.9 2054.4,483.8 2064.9,573.7 2075.4,601.9 2085.9,476.0 2096.4,429.8 2106.9,465.8 2117.4,518.0 2127.9,573.7 2138.4,622.9 2148.9,624.7 2159.4,705.7 2169.8,670.9 2180.3,775.9 2190.8,774.7 2201.3,844.3 2211.8,872.2 2222.3,884.5 2232.8,890.5 2243.3,888.4 2253.8,881.8 2264.3,833.8 2274.8,775.9 2285.2,729.7 2295.7,566.8 2306.2,232.1 2316.7,251.9 2327.2,188.3 2337.7,181.4 2348.2,162.5 2358.7,197.0 2369.2,389.9 2379.7,605.8 2390.2,639.7 2400.6,592.9 2411.1,609.7 2421.6,703.9 2432.1,731.8 2442.6,777.7 2453.1,814.9" stroke="#f0f"/>
<polyline points="145.1,662.8 155.6,718.9 166.1,758.8 176.6,811.0 187.1,847.3 197.6,847.3 208.0,853.6 218.5,835.0 229.0,860.8 239.5,860.8 250.0,838.6 260.5,748.9 271.0,706.9 281.5,593.8 292.0,294.8 302.5,288.5 313.0,302.0 323.4,231.8 333.9,179.9 344.4,195.2 354.9,195.5 365.4,271.4 375.9,438.8 386.4,686.8 396.9,667.9 407.4,718.9 417.9,768.4 428.4,795.4 438.8,850.6 449.3,847.9 459.8,839.8 470.3,853.9 480.8,839.8 491.3,861.1 501.8,820.3 512.3,748.3 522.8,638.8 533.3,332.9 543.8,234.8 554.2,320.9 564.7,275.9 575.2,165.2 585.7,165.2 596.2,166.4 606.7,236.9 617.2,296.9 627.7,366.8 638.2,509.0 648.7,672.7 659.2,718.9 669.6,756.7 680.1,833.8 690.6,867.7 701.1,844.9 711.6,873.4 722.1,871.9 732.6,883.9 743.1,861.1 753.6,861.7 764.1,760.3 774.6,638.8 785.0,359.9 795.5,285.8 806.0,300.5 816.5,243.8 827.0,194.0 837.5,192.5 848.0,215.0 858.5,224.9 869.0,305.0 879.5,290.9 890.0,383.3 900.4,419.0 910.9,443.0 921.4,662.8 931.9,815.8 942.4,844.0 952.9,855.4 963.4,862.6 973.9,870.1 984.4,843.4 994.9,842.8 1005.4,831.4 1015.8,694.9 1026.3,598.9 1036.8,314.9 1047.3,221.9 1057.8,188.9 1068.3,170.9 1078.8,134.0 1089.3,106.4 1099.8,185.9 1110.3,242.9 1120.8,299.9 1131.2,564.7 1141.7,737.8 1152.2,767.8 1162.7,803.8 1173.2,836.8 1183.7,874.0 1194.2,862.3 1204.7,885.4 1215.2,912.7 1225.7,923.8 1236.2,925.6 1246.6,915.7 1257.1,904.6 1267.6,915.1 1278.1,900.4 1288.6,719.8 1299.1,561.8 1309.6,633.7 1320.1,627.7 1330.6,607.9 1341.1,588.7 1351.6,628.9 1362.0,585.7 1372.5,820.3 1383.0,860.8 1393.5,872.5 1404.0,867.7 1414.5,859.9 1425.0,886.9 1435.5,886.9 1446.0,910.6 1456.5,935.5 1467.0,932.2 1477.4,925.3 1487.9,941.8 1498.4,926.5 1508.9,930.1 1519.4,930.7 1529.9,923.8 1540.4,815.8 1550.9,692.8 1561.4,708.7 1571.9,639.7 1582.4,608.8 1592.8,583.9 1603.3,663.7 1613.8,803.8 1624.3,828.4 1634.8,825.7 1645.3,844.9 1655.8,870.4 1666.3,895.0 1676.8,903.7 1687.3,911.8 1697.8,909.1 1708.2,905.8 1718.7,904.3 1729.2,912.7 1739.7,902.5 1750.2,902.5 1760.7,859.3 1771.2,776.8 1781.7,677.8 1792.2,589.9 1802.7,546.8 1813.2,545.0 1823.6,530.0 1834.1,491.9 1844.6,476.0 1855.1,555.5 1865.6,554.0 1876.1,598.9 1886.6,571.9 1897.1,644.8 1907.6,632.8 1918.1,708.7 1928.6,776.5 1939.0,783.4 1949.5,818.2 1960.0,828.4 1970.5,814.6 1981.0,834.4 1991.5,833.2 2002.0,833.8 2012.5,816.4 2023.0,698.8 2033.5,617.8 2044.0,542.9 2054.4,458.9 2064.9,576.7 2075.4,512.0 2085.9,446.0 2096.4,463.4 2106.9,497.9 2117.4,524.9 2127.9,583.9 2138.4,606.7 2148.9,673.9 2159.4,668.8 2169.8,744.7 2180.3,773.8 2190.8,833.8 2201.3,860.2 2211.8,884.2 2222.3,867.1 2232.8,887.8 2243.3,887.8 2253.8,879.4 2264.3,829.3 2274.8,773.8 2285.2,647.8 2295.7,380.9 2306.2,216.5 2316.7,230.6 2327.2,173.0 2337.7,148.7 2348.2,153.2 2358.7,196.4 2369.2,437.9 2379.7,563.9 2390.2,570.7 2400.6,586.9 2411.1,665.8 2421.6,707.8 2432.1,759.7 2442.6,799.9 2453.1,819.7" stroke="#00f"/>
</g>
<g stroke="#262626" stroke-width="2" fill="none">
<rect x="145.1" y="38.9" width="2308.0" height="1049.9"/>
<path d="M354.9 1088.8V1065.5M354.9 38.9V62.2M564.7 1088.8V1065.5M564.7 38.9V62.2M774.6 1088.8V1065.5M774.6 38.9V62.2M984.4 1088.8V1065.5M984.4 38.9V62.2M1194.2 1088.8V1065.5M1194.2 38.9V62.2M1404.0 1088.8V1065.5M1404.0 38.9V62.2M1613.8 1088.8V1065.5M1613.8 38.9V62.2M1823.6 1088.8V1065.5M1823.6 38.9V62.2M2033.5 1088.8V1065.5M2033.5 38.9V62.2M2243.3 1088.8V1065.5M2243.3 38.9V62.2M145.1 938.8H168.4M2453.1 938.8H2429.8M145.1 788.8H168.4M2453.1 788.8H2429.8M145.1 638.8H168.4M2453.1 638.8H2429.8M145.1 488.9H168.4M2453.1 488.9H2429.8M145.1 338.9H168.4M2453.1 338.9H2429.8M145.1 188.9H168.4M2453.1 188.9H2429.8"/>
</g>
<g fill="#262626" font-size="35.0px">
<text transform="translate(144.3 1139.8) scale(1 1.03)" text-anchor="middle">740</text>
<text transform="translate(354.1 1139.8) scale(1 1.03)" text-anchor="middle">760</text>
<text transform="translate(563.9 1139.8) scale(1 1.03)" text-anchor="middle">780</text>
<text transform="translate(773.8 1139.8) scale(1 1.03)" text-anchor="middle">800</text>
<text transform="translate(983.6 1139.8) scale(1 1.03)" text-anchor="middle">820</text>
<text transform="translate(1193.4 1139.8) scale(1 1.03)" text-anchor="middle">840</text>
<text transform="translate(1403.2 1139.8) scale(1 1.03)" text-anchor="middle">860</text>
<text transform="translate(1613.0 1139.8) scale(1 1.03)" text-anchor="middle">880</text>
<text transform="translate(1822.8 1139.8) scale(1 1.03)" text-anchor="middle">900</text>
<text transform="translate(2032.7 1139.8) scale(1 1.03)" text-anchor="middle">920</text>
<text transform="translate(2242.5 1139.8) scale(1 1.03)" text-anchor="middle">940</text>
<text transform="translate(2452.3 1139.8) scale(1 1.03)" text-anchor="middle">960</text>
<text transform="translate(129 1102.7) scale(1 1.03)" text-anchor="end">500</text>
<text transform="translate(129 952.7) scale(1 1.03)" text-anchor="end">550</text>
<text transform="translate(129 802.7) scale(1 1.03)" text-anchor="end">600</text>
<text transform="translate(129 652.7) scale(1 1.03)" text-anchor="end">650</text>
<text transform="translate(129 502.8) scale(1 1.03)" text-anchor="end">700</text>
<text transform="translate(129 352.8) scale(1 1.03)" text-anchor="end">750</text>
<text transform="translate(129 202.8) scale(1 1.03)" text-anchor="end">800</text>
<text transform="translate(129 52.8) scale(1 1.03)" text-anchor="end">850</text>
</g>
<text transform="translate(1299 1191) scale(1 1.055)" text-anchor="middle" font-size="38.5px" fill="#262626">Hours</text>
<text transform="translate(49.6 565) rotate(-90) scale(1 1.055)" text-anchor="middle" font-size="38px" fill="#262626">WBE(kWh)</text>
<rect x="1248.0" y="158.5" width="297.3" height="234.3" fill="#fff"/>
<g clip-path="url(#c1)" fill="none" stroke-width="2.2" stroke-linejoin="miter">
<polyline points="1210.8,797.8 1248.0,753.9 1285.2,625.9 1322.3,355.0 1359.5,310.8 1396.7,295.0 1433.8,221.8 1471.0,196.3 1508.1,220.0 1545.3,295.3 1582.5,534.3" stroke="#f00" stroke-dasharray="3.2 7.3"/>
</g>
<path d="M1322.3 346.0 L1324.3 352.2 L1330.9 352.2 L1325.6 356.1 L1327.6 362.3 L1322.3 358.5 L1317.0 362.3 L1319.1 356.1 L1313.8 352.2 L1320.3 352.2Z M1359.5 301.8 L1361.5 308.0 L1368.0 308.0 L1362.8 311.9 L1364.8 318.1 L1359.5 314.2 L1354.2 318.1 L1356.2 311.9 L1350.9 308.0 L1357.5 308.0Z M1396.7 286.0 L1398.7 292.2 L1405.2 292.2 L1399.9 296.0 L1401.9 302.3 L1396.7 298.4 L1391.4 302.3 L1393.4 296.0 L1388.1 292.2 L1394.6 292.2Z M1433.8 212.8 L1435.8 219.0 L1442.4 219.0 L1437.1 222.8 L1439.1 229.0 L1433.8 225.2 L1428.5 229.0 L1430.5 222.8 L1425.3 219.0 L1431.8 219.0Z M1471.0 187.3 L1473.0 193.5 L1479.5 193.5 L1474.2 197.3 L1476.3 203.6 L1471.0 199.7 L1465.7 203.6 L1467.7 197.3 L1462.4 193.5 L1469.0 193.5Z M1508.1 211.0 L1510.2 217.2 L1516.7 217.2 L1511.4 221.1 L1513.4 227.3 L1508.1 223.4 L1502.8 227.3 L1504.9 221.1 L1499.6 217.2 L1506.1 217.2Z M1545.3 286.3 L1547.3 292.5 L1553.9 292.5 L1548.6 296.3 L1550.6 302.6 L1545.3 298.7 L1540.0 302.6 L1542.0 296.3 L1536.7 292.5 L1543.3 292.5Z" fill="none" stroke="#f00" stroke-width="2.3" stroke-linejoin="miter"/>
<g clip-path="url(#c1)" fill="none" stroke-width="2.2" stroke-linejoin="miter">
<polyline points="1210.8,790.2 1248.0,745.1 1285.2,586.1 1322.3,259.2 1359.5,278.6 1396.7,216.5 1433.8,209.8 1471.0,191.3 1508.1,225.0 1545.3,413.3 1582.5,624.2" stroke="#f0f"/>
<polyline points="1210.8,788.2 1248.0,665.2 1285.2,404.5 1322.3,244.0 1359.5,257.8 1396.7,201.6 1433.8,177.8 1471.0,182.2 1508.1,224.4 1545.3,460.2 1582.5,583.2" stroke="#00f"/>
</g>
<g stroke="#262626" stroke-width="2" fill="none">
<rect x="1248.0" y="158.5" width="297.3" height="234.3"/>
<path d="M1322.3 392.8V389.6M1322.3 158.5V161.7M1396.7 392.8V389.6M1396.7 158.5V161.7M1471.0 392.8V389.6M1471.0 158.5V161.7M1248.0 334.2H1251.2M1545.3 334.2H1542.1M1248.0 275.6H1251.2M1545.3 275.6H1542.1M1248.0 217.1H1251.2M1545.3 217.1H1542.1"/>
</g>
<g fill="#262626" font-size="26.6px">
<text transform="translate(1247.5 427.0) scale(1.07 1)" text-anchor="middle">944</text>
<text transform="translate(1321.8 427.0) scale(1.07 1)" text-anchor="middle">946</text>
<text transform="translate(1396.2 427.0) scale(1.07 1)" text-anchor="middle">948</text>
<text transform="translate(1470.5 427.0) scale(1.07 1)" text-anchor="middle">950</text>
<text transform="translate(1544.8 427.0) scale(1.07 1)" text-anchor="middle">952</text>
<text transform="translate(1241.7 402.4) scale(1.07 1)" text-anchor="end">740</text>
<text transform="translate(1241.7 343.8) scale(1.07 1)" text-anchor="end">760</text>
<text transform="translate(1241.7 285.2) scale(1.07 1)" text-anchor="end">780</text>
<text transform="translate(1241.7 226.7) scale(1.07 1)" text-anchor="end">800</text>
<text transform="translate(1241.7 168.1) scale(1.07 1)" text-anchor="end">820</text>
</g>
<rect x="1693.8" y="158.5" width="300.8" height="234.3" fill="#fff"/>
<g clip-path="url(#c2)" fill="none" stroke-width="2.2" stroke-linejoin="miter">
<polyline points="1675.0,-474.1 1693.8,-403.0 1712.6,-330.4 1731.4,-182.0 1750.2,-1.6 1769.0,337.0 1787.8,127.7 1806.6,222.9 1825.4,288.9 1844.2,291.3 1863.0,381.9 1881.8,342.8 1900.6,335.8 1919.4,356.9 1938.2,299.9 1957.0,344.8 1975.8,239.3 1994.6,137.8 2013.4,0.3" stroke="#f00" stroke-dasharray="3.2 7.3"/>
</g>
<path d="M1769.0 328.0 L1771.0 334.2 L1777.6 334.2 L1772.3 338.0 L1774.3 344.2 L1769.0 340.4 L1763.7 344.2 L1765.7 338.0 L1760.4 334.2 L1767.0 334.2Z M1806.6 213.9 L1808.6 220.2 L1815.2 220.2 L1809.9 224.0 L1811.9 230.2 L1806.6 226.4 L1801.3 230.2 L1803.3 224.0 L1798.0 220.2 L1804.6 220.2Z M1825.4 279.9 L1827.4 286.1 L1834.0 286.1 L1828.7 290.0 L1830.7 296.2 L1825.4 292.4 L1820.1 296.2 L1822.1 290.0 L1816.8 286.1 L1823.4 286.1Z M1844.2 282.3 L1846.2 288.5 L1852.8 288.5 L1847.5 292.3 L1849.5 298.6 L1844.2 294.7 L1838.9 298.6 L1840.9 292.3 L1835.6 288.5 L1842.2 288.5Z M1863.0 372.9 L1865.0 379.1 L1871.6 379.1 L1866.3 382.9 L1868.3 389.1 L1863.0 385.3 L1857.7 389.1 L1859.7 382.9 L1854.4 379.1 L1861.0 379.1Z M1881.8 333.8 L1883.8 340.0 L1890.4 340.0 L1885.1 343.9 L1887.1 350.1 L1881.8 346.3 L1876.5 350.1 L1878.5 343.9 L1873.2 340.0 L1879.8 340.0Z M1900.6 326.8 L1902.6 333.0 L1909.2 333.0 L1903.9 336.8 L1905.9 343.1 L1900.6 339.2 L1895.3 343.1 L1897.3 336.8 L1892.0 333.0 L1898.6 333.0Z M1919.4 347.9 L1921.4 354.1 L1928.0 354.1 L1922.7 357.9 L1924.7 364.2 L1919.4 360.3 L1914.1 364.2 L1916.1 357.9 L1910.8 354.1 L1917.4 354.1Z M1938.2 290.9 L1940.2 297.1 L1946.8 297.1 L1941.5 300.9 L1943.5 307.1 L1938.2 303.3 L1932.9 307.1 L1934.9 300.9 L1929.6 297.1 L1936.2 297.1Z M1957.0 335.8 L1959.0 342.0 L1965.6 342.0 L1960.3 345.8 L1962.3 352.0 L1957.0 348.2 L1951.7 352.0 L1953.7 345.8 L1948.4 342.0 L1955.0 342.0Z M1975.8 230.3 L1977.8 236.6 L1984.4 236.6 L1979.1 240.4 L1981.1 246.6 L1975.8 242.8 L1970.5 246.6 L1972.5 240.4 L1967.2 236.6 L1973.8 236.6Z" fill="none" stroke="#f00" stroke-width="2.3" stroke-linejoin="miter"/>
<g clip-path="url(#c2)" fill="none" stroke-width="2.2" stroke-linejoin="miter">
<polyline points="1675.0,-527.2 1693.8,-419.4 1712.6,-360.9 1731.4,-185.1 1750.2,-18.4 1769.0,105.0 1787.8,105.0 1806.6,203.4 1825.4,266.3 1844.2,289.3 1863.0,343.2 1881.8,342.0 1900.6,344.4 1919.4,368.6 1938.2,280.7 1957.0,320.6 1975.8,224.1 1994.6,98.8 2013.4,-36.8" stroke="#f0f"/>
<polyline points="1675.0,-497.1 1693.8,-496.8 1712.6,-398.0 1731.4,-180.1 1750.2,142.9 1769.0,118.3 1787.8,184.7 1806.6,249.1 1825.4,284.2 1844.2,356.1 1863.0,352.6 1881.8,342.0 1900.6,360.4 1919.4,342.0 1938.2,369.8 1957.0,316.7 1975.8,222.9 1994.6,80.4 2013.4,-317.9" stroke="#00f"/>
</g>
<g stroke="#262626" stroke-width="2" fill="none">
<rect x="1693.8" y="158.5" width="300.8" height="234.3"/>
<path d="M1787.8 392.8V389.6M1787.8 158.5V161.7M1881.8 392.8V389.6M1881.8 158.5V161.7M1975.8 392.8V389.6M1975.8 158.5V161.7M1693.8 353.8H1697.0M1994.6 353.8H1991.4M1693.8 275.6H1697.0M1994.6 275.6H1991.4M1693.8 197.6H1697.0M1994.6 197.6H1991.4"/>
</g>
<g fill="#262626" font-size="26.6px">
<text transform="translate(1693.3 427.5) scale(1.07 1)" text-anchor="middle">760</text>
<text transform="translate(1787.3 427.5) scale(1.07 1)" text-anchor="middle">765</text>
<text transform="translate(1881.3 427.5) scale(1.07 1)" text-anchor="middle">770</text>
<text transform="translate(1975.3 427.5) scale(1.07 1)" text-anchor="middle">775</text>
<text transform="translate(1688.3 363.4) scale(1.07 1)" text-anchor="end">580</text>
<text transform="translate(1688.3 285.2) scale(1.07 1)" text-anchor="end">600</text>
<text transform="translate(1688.3 207.2) scale(1.07 1)" text-anchor="end">620</text>
</g>
<rect x="2078.0" y="68.0" width="346.0" height="139.0" fill="#fff" stroke="#262626" stroke-width="2"/>
<g fill="none" stroke-width="2">
<path d="M2088 93.7H2194" stroke="#f00" stroke-dasharray="3.2 7.3"/>
<path d="M2140.7 84.7 L2142.7 90.9 L2149.3 90.9 L2144.0 94.8 L2146.0 101.0 L2140.7 97.1 L2135.4 101.0 L2137.4 94.8 L2132.1 90.9 L2138.7 90.9Z" stroke="#f00" stroke-linejoin="miter"/>
<path d="M2088 136.9H2194" stroke="#f0f"/>
<path d="M2088 179.8H2194" stroke="#00f"/>
</g>
<g fill="#000" font-size="31.3px">
<text transform="translate(2200.5 106.7) scale(1 1.035)">Combination I</text>
<text transform="translate(2200.5 149.7) scale(1 1.035)">Combination III</text>
<text transform="translate(2200.5 193.4) scale(1 1.035)">Real</text>
</g>
</svg>
</body></html>
